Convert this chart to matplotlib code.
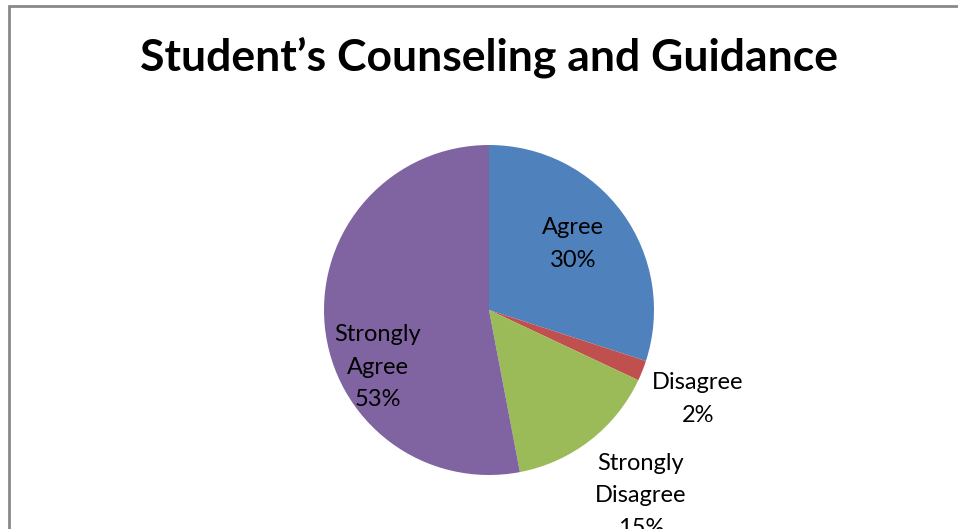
import matplotlib
matplotlib.use("Agg")
import matplotlib.pyplot as plt
from matplotlib.patches import Rectangle

# data
labels = ["Agree", "Disagree", "Strongly\nDisagree", "Strongly\nAgree"]
values = [30, 2, 15, 53]
colors = ["#4F81BD", "#C0504D", "#9BBB59", "#8064A2"]

W, H = 958, 529
fig = plt.figure(figsize=(W / 100, H / 100), dpi=100)
ax = fig.add_axes([0, 0, 1, 1])
ax.set_xlim(0, W)
ax.set_ylim(0, H)
ax.set_aspect("equal")
ax.axis("off")

# chart area border (runs past the crop on right and bottom)
ax.add_patch(Rectangle((9, -20), 1000, H - 6 + 20, fill=False,
                       edgecolor="#898989", linewidth=2))

cx, cy, r = 489, H - 310, 165
ax.pie(values, colors=colors, startangle=90, counterclock=False,
       center=(cx, cy), radius=r, wedgeprops=dict(linewidth=0))
ax.set_xlim(0, W)
ax.set_ylim(0, H)

font = "Lato"
ax.text(489, H - 57, "Student\u2019s Counseling and Guidance", ha="center",
        va="center", fontsize=32, fontweight="bold", family=font)

# label positions (pixel coords from top)
label_pos = [(573, 244), (698, 399), (641, 496), (378, 367)]
for lab, v, (x, y) in zip(labels, values, label_pos):
    ax.text(x, H - y, f"{lab}\n{v}%", ha="center", va="center",
            fontsize=17, family=font, linespacing=1.65, color="black")

fig.savefig("out.png", dpi=100)
